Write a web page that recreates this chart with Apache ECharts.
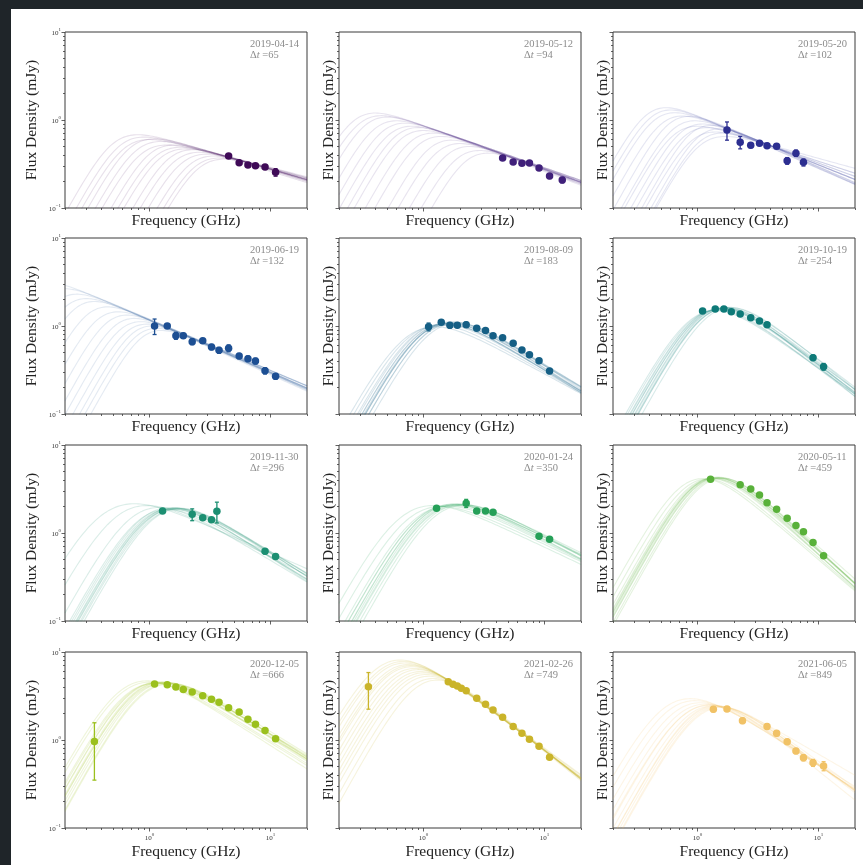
<!DOCTYPE html>
<html>
<head>
<meta charset="utf-8">
<script src="https://cdn.jsdelivr.net/npm/echarts@6/dist/echarts.min.js"></script>
<style>
  html, body { margin: 0; padding: 0; width: 863px; height: 865px; background: #1f2529; overflow: hidden; }
  #sheet { position: absolute; left: 11px; top: 9px; width: 852px; height: 856px; background: #ffffff; }
  #chart { position: absolute; left: 0; top: 0; width: 863px; height: 865px; }
</style>
</head>
<body>
<div id="sheet"></div>
<div id="chart"></div>
<script>
// ---- Epochs -------------------------------------------------------------
const epochDates  = ['2019-04-14', '2019-05-12', '2019-05-20', '2019-06-19', '2019-08-09', '2019-10-19',
                     '2019-11-30', '2020-01-24', '2020-05-11', '2020-12-05', '2021-02-26', '2021-06-05'];
const epochDeltaT = [65, 94, 102, 132, 183, 254, 296, 350, 459, 666, 749, 849];
const epochColors = ['#3f0a57', '#40207a', '#2c2e90', '#1d4f93', '#155f85', '#0e7a78',
                     '#1c8f72', '#25a058', '#59b13a', '#9bc01d', '#cab42a', '#f1c266'];

// ---- Measured spectra: frequency (GHz), flux density (mJy), 1-sigma error (mJy)
const freq_190414 = [4.5, 5.5, 6.5, 7.5, 9.0, 11.0];
const flux_190414 = [0.39, 0.327, 0.308, 0.303, 0.292, 0.255];
const err_190414  = [0.02, 0.015, 0.015, 0.015, 0.015, 0.025];

const freq_190512 = [4.5, 5.5, 6.5, 7.5, 9.0, 11.0, 14.0];
const flux_190512 = [0.37, 0.333, 0.322, 0.325, 0.285, 0.231, 0.208];
const err_190512  = [0.018, 0.015, 0.015, 0.015, 0.015, 0.015, 0.015];

const freq_190520 = [1.75, 2.25, 2.75, 3.25, 3.75, 4.5, 5.5, 6.5, 7.5];
const flux_190520 = [0.77, 0.56, 0.515, 0.543, 0.51, 0.502, 0.344, 0.42, 0.33];
const err_190520  = [0.18, 0.09, 0.03, 0.03, 0.03, 0.03, 0.03, 0.035, 0.03];

const freq_190619 = [1.1, 1.4, 1.65, 1.9, 2.25, 2.75, 3.25, 3.75, 4.5, 5.5, 6.5, 7.5, 9.0, 11.0];
const flux_190619 = [1.0, 1.0, 0.776, 0.776, 0.664, 0.68, 0.577, 0.53, 0.56, 0.456, 0.425, 0.40, 0.31, 0.268];
const err_190619  = [0.2, 0.06, 0.07, 0.05, 0.05, 0.04, 0.04, 0.04, 0.05, 0.03, 0.03, 0.03, 0.025, 0.02];

const freq_190809 = [1.1, 1.4, 1.65, 1.9, 2.25, 2.75, 3.25, 3.75, 4.5, 5.5, 6.5, 7.5, 9.0, 11.0];
const flux_190809 = [0.98, 1.10, 1.02, 1.02, 1.035, 0.94, 0.89, 0.776, 0.736, 0.636, 0.533, 0.472, 0.403, 0.308];
const err_190809  = [0.1, 0.05, 0.07, 0.05, 0.07, 0.04, 0.04, 0.04, 0.03, 0.03, 0.025, 0.025, 0.02, 0.02];

const freq_191019 = [1.1, 1.4, 1.65, 1.9, 2.25, 2.75, 3.25, 3.75, 9.0, 11.0];
const flux_191019 = [1.48, 1.56, 1.56, 1.45, 1.37, 1.24, 1.14, 1.03, 0.436, 0.345];
const err_191019  = [0.05, 0.05, 0.05, 0.05, 0.05, 0.04, 0.04, 0.04, 0.03, 0.03];

const freq_191130 = [1.28, 2.25, 2.75, 3.25, 3.6, 9.0, 11.0];
const flux_191130 = [1.78, 1.63, 1.49, 1.41, 1.77, 0.62, 0.54];
const err_191130  = [0.06, 0.25, 0.07, 0.06, 0.47, 0.04, 0.03];

const freq_200124 = [1.28, 2.25, 2.75, 3.25, 3.75, 9.0, 11.0];
const flux_200124 = [1.91, 2.18, 1.78, 1.78, 1.72, 0.92, 0.85];
const err_200124  = [0.08, 0.23, 0.07, 0.06, 0.06, 0.04, 0.04];

const freq_200511 = [1.28, 2.25, 2.75, 3.25, 3.75, 4.5, 5.5, 6.5, 7.5, 9.0, 11.0];
const flux_200511 = [4.07, 3.54, 3.16, 2.70, 2.21, 1.86, 1.47, 1.22, 1.03, 0.78, 0.55];
const err_200511  = [0.12, 0.1, 0.09, 0.08, 0.07, 0.06, 0.05, 0.04, 0.04, 0.03, 0.03];

const freq_201205 = [0.35, 1.1, 1.4, 1.65, 1.9, 2.25, 2.75, 3.25, 3.75, 4.5, 5.5, 6.5, 7.5, 9.0, 11.0];
const flux_201205 = [0.96, 4.33, 4.25, 4.0, 3.76, 3.51, 3.19, 2.90, 2.68, 2.33, 2.08, 1.72, 1.51, 1.28, 1.03];
const err_201205  = [0.61, 0.13, 0.12, 0.12, 0.11, 0.1, 0.1, 0.09, 0.08, 0.07, 0.06, 0.05, 0.05, 0.04, 0.04];

const freq_210226 = [0.35, 1.6, 1.75, 1.9, 2.05, 2.25, 2.75, 3.25, 3.75, 4.5, 5.5, 6.5, 7.5, 9.0, 11.0];
const flux_210226 = [4.04, 4.60, 4.29, 4.11, 3.87, 3.63, 2.98, 2.55, 2.19, 1.81, 1.42, 1.19, 1.02, 0.848, 0.635];
const err_210226  = [1.8, 0.14, 0.13, 0.12, 0.12, 0.11, 0.09, 0.08, 0.07, 0.06, 0.05, 0.04, 0.04, 0.03, 0.03];

const freq_210605 = [1.35, 1.75, 2.35, 3.75, 4.5, 5.5, 6.5, 7.5, 9.0, 11.0];
const flux_210605 = [2.23, 2.25, 1.66, 1.42, 1.19, 0.957, 0.75, 0.63, 0.552, 0.507];
const err_210605  = [0.14, 0.12, 0.12, 0.1, 0.08, 0.06, 0.05, 0.05, 0.05, 0.06];

// ---- Posterior model draws: [peak frequency (GHz), peak flux (mJy), optically thin index]
const fits_190414 = [[0.8,0.68,-0.40],[0.9,0.64,-0.42],[1.0,0.60,-0.38],[1.1,0.61,-0.42],[1.25,0.57,-0.40],
  [1.4,0.52,-0.36],[1.6,0.52,-0.42],[1.8,0.49,-0.40],[2.0,0.47,-0.38],[2.3,0.46,-0.42],[2.6,0.43,-0.40],
  [3.0,0.41,-0.38],[3.4,0.39,-0.42],[3.8,0.37,-0.40],[4.2,0.36,-0.36]];
const fits_190512 = [[0.4,1.2,-0.5],[0.45,1.12,-0.48],[0.5,1.08,-0.52],[0.6,0.98,-0.5],[0.7,0.92,-0.5],
  [0.8,0.85,-0.48],[0.9,0.82,-0.52],[1.0,0.76,-0.5],[1.2,0.71,-0.5],[1.4,0.65,-0.48],[1.7,0.59,-0.52],
  [2.0,0.54,-0.5],[2.4,0.50,-0.5],[2.9,0.45,-0.48],[3.4,0.42,-0.5]];
const fits_190520 = [[0.55,1.38,-0.6],[0.6,1.30,-0.6],[0.65,1.21,-0.55],[0.75,1.11,-0.55],[0.85,1.10,-0.6],
  [0.95,0.98,-0.55],[1.0,0.85,-0.45],[1.1,0.90,-0.55],[1.2,0.82,-0.5],[1.3,0.87,-0.62],[1.4,0.73,-0.45],
  [1.5,0.79,-0.6],[1.6,0.71,-0.5],[1.7,0.65,-0.38]];
const fits_190619 = [[0.15,3.1,-0.6],[0.2,2.65,-0.6],[0.25,2.3,-0.58],[0.3,2.05,-0.6],[0.35,1.9,-0.62],
  [0.45,1.65,-0.6],[0.55,1.45,-0.58],[0.65,1.33,-0.6],[0.75,1.22,-0.62],[0.85,1.12,-0.58],[0.95,1.05,-0.6],
  [1.05,1.0,-0.62],[1.15,0.94,-0.58],[1.25,0.89,-0.6]];
const fits_190809 = [[1.25,0.98,-0.75],[1.35,1.02,-0.78],[1.45,1.05,-0.8],[1.5,1.07,-0.82],[1.55,1.06,-0.85],
  [1.6,1.08,-0.8],[1.65,1.07,-0.85],[1.7,1.09,-0.82],[1.75,1.06,-0.88],[1.8,1.1,-0.85],[1.9,1.08,-0.9],
  [1.6,1.04,-0.85],[1.7,1.12,-0.85]];
const fits_191019 = [[1.4,1.5,-0.98],[1.45,1.52,-1.0],[1.5,1.55,-1.05],[1.55,1.58,-1.02],[1.6,1.6,-1.05],
  [1.65,1.6,-1.08],[1.7,1.62,-1.05],[1.75,1.6,-1.1],[1.8,1.63,-1.05],[1.6,1.56,-1.0],[1.7,1.58,-1.12],
  [1.9,1.62,-1.1]];
const fits_191130 = [[1.4,1.85,-0.82],[1.5,1.88,-0.85],[1.55,1.9,-0.88],[1.6,1.92,-0.85],[1.65,1.9,-0.82],
  [1.7,1.93,-0.88],[1.75,1.88,-0.85],[1.6,1.86,-0.9],[1.5,1.95,-0.8],[1.8,1.9,-0.9],[1.2,1.95,-0.82],
  [0.95,2.05,-0.7],[0.75,2.15,-0.6]];
const fits_200124 = [[1.2,2.05,-0.65],[1.4,2.0,-0.65],[1.6,2.02,-0.68],[1.7,2.06,-0.7],[1.75,2.12,-0.66],
  [1.8,2.1,-0.72],[1.85,2.15,-0.7],[1.9,2.1,-0.7],[1.95,2.05,-0.74],[2.0,2.12,-0.68],[2.1,2.1,-0.72],
  [2.2,2.08,-0.75]];
const fits_200511 = [[1.1,4.15,-1.18],[1.2,4.1,-1.2],[1.3,4.15,-1.22],[1.35,4.2,-1.25],[1.38,4.12,-1.2],
  [1.4,4.25,-1.28],[1.42,4.3,-1.25],[1.45,4.25,-1.25],[1.48,4.18,-1.25],[1.5,4.3,-1.22],[1.55,4.22,-1.28],
  [1.6,4.2,-1.3]];
const fits_201205 = [[0.95,4.7,-0.88],[1.0,4.55,-0.85],[1.1,4.4,-0.85],[1.15,4.45,-0.82],[1.2,4.5,-0.85],
  [1.2,4.6,-0.85],[1.25,4.5,-0.88],[1.3,4.55,-0.85],[1.3,4.4,-0.82],[1.35,4.45,-0.85],[1.4,4.5,-0.88],
  [1.45,4.4,-0.9],[1.5,4.35,-0.85]];
const fits_210226 = [[0.64,8.1,-1.0],[0.68,7.8,-1.0],[0.7,7.5,-1.02],[0.75,7.2,-1.03],[0.78,7.0,-1.04],
  [0.8,6.8,-1.04],[0.85,6.5,-1.05],[0.9,6.3,-1.06],[0.95,6.0,-1.07],[1.0,5.8,-1.08],[1.05,5.55,-1.08],
  [1.1,5.3,-1.1],[1.2,5.0,-1.1],[1.3,4.8,-1.12]];
const fits_210605 = [[0.87,2.95,-0.85],[0.95,2.8,-0.88],[1.05,2.65,-0.9],[1.15,2.55,-0.92],[1.25,2.5,-0.95],
  [1.3,2.5,-0.8],[1.35,2.45,-0.98],[1.4,2.45,-1.1],[1.45,2.42,-1.0],[1.5,2.4,-1.02],[1.55,2.38,-1.05],
  [1.6,2.35,-1.0]];

// Sharpness of the spectral turnover used for each epoch's model draws
const fitSmoothing = [1.4, 1.4, 1.4, 1.4, 0.8, 0.8, 0.8, 0.8, 0.8, 0.8, 0.8, 0.8];

// Axis tick values
const freqMajorTicks = [1, 10];
const freqMinorTicks = [0.2, 0.3, 0.4, 0.5, 0.6, 0.7, 0.8, 0.9, 2, 3, 4, 5, 6, 7, 8, 9, 20];
const fluxMajorTicks = [0.1, 1, 10];
const fluxMinorTicks = [0.2, 0.3, 0.4, 0.5, 0.6, 0.7, 0.8, 0.9, 2, 3, 4, 5, 6, 7, 8, 9];

const epochs = [
  { freq: freq_190414, flux: flux_190414, err: err_190414, fits: fits_190414 },
  { freq: freq_190512, flux: flux_190512, err: err_190512, fits: fits_190512 },
  { freq: freq_190520, flux: flux_190520, err: err_190520, fits: fits_190520 },
  { freq: freq_190619, flux: flux_190619, err: err_190619, fits: fits_190619 },
  { freq: freq_190809, flux: flux_190809, err: err_190809, fits: fits_190809 },
  { freq: freq_191019, flux: flux_191019, err: err_191019, fits: fits_191019 },
  { freq: freq_191130, flux: flux_191130, err: err_191130, fits: fits_191130 },
  { freq: freq_200124, flux: flux_200124, err: err_200124, fits: fits_200124 },
  { freq: freq_200511, flux: flux_200511, err: err_200511, fits: fits_200511 },
  { freq: freq_201205, flux: flux_201205, err: err_201205, fits: fits_201205 },
  { freq: freq_210226, flux: flux_210226, err: err_210226, fits: fits_210226 },
  { freq: freq_210605, flux: flux_210605, err: err_210605, fits: fits_210605 }
];

// ---- Spectral model: smoothly broken power law, self-absorbed below the peak
const FREQ_MIN = 0.2, FREQ_MAX = 20, FLUX_MIN = 0.1, FLUX_MAX = 10;
const THICK_INDEX = 2.5;
function modelFlux(nu, nuPeak, fluxPeak, beta, s) {
  const shape = x => Math.pow(Math.pow(x, -s * THICK_INDEX) + Math.pow(x, -s * beta), -1 / s);
  const xPeak = Math.pow(-beta / THICK_INDEX, 1 / (s * (beta - THICK_INDEX)));
  return fluxPeak * shape(nu / nuPeak * xPeak) / shape(xPeak);
}
const MODEL_SAMPLES = 120;
const modelFreqs = Array.from({ length: MODEL_SAMPLES },
  (_, k) => FREQ_MIN * Math.pow(FREQ_MAX / FREQ_MIN, k / (MODEL_SAMPLES - 1)));

// ---- Layout
const GRID_LEFT = [65, 339, 613];
const GRID_TOP = [32, 238, 445, 652];
const GRID_W = 242, GRID_H = 176;
const FONT = '"Liberation Serif", "Times New Roman", serif';
const AXIS_COLOR = '#3a3a3a';

function powerLabel(v) {
  const e = Math.round(v);
  return '{b|10}{sup|' + (e < 0 ? '\u2212' + (-e) : e) + '}';
}
const tickRich = {
  b: { fontFamily: FONT, fontSize: 7, color: '#333', padding: [3, 0, 0, 0] },
  sup: { fontFamily: FONT, fontSize: 5, color: '#333', verticalAlign: 'top', padding: [0, 0, 3, 0] }
};

function tickAxis(dim, gridIndex, values, length, withLabels) {
  const lo = dim === 'x' ? FREQ_MIN : FLUX_MIN, hi = dim === 'x' ? FREQ_MAX : FLUX_MAX;
  const logs = values.map(v => Math.log10(v));
  return {
    type: 'value', gridIndex, position: dim === 'x' ? 'bottom' : 'left',
    min: Math.log10(lo), max: Math.log10(hi), silent: true,
    axisLine: { show: false, onZero: false }, splitLine: { show: false },
    axisTick: { show: true, customValues: logs, length, lineStyle: { color: AXIS_COLOR, width: 0.8 } },
    axisLabel: withLabels
      ? { show: true, customValues: logs, formatter: powerLabel, margin: 4, rich: tickRich }
      : { show: false }
  };
}

const grids = [], xAxes = [], yAxes = [], series = [], graphics = [];

epochs.forEach((ep, i) => {
  const col = i % 3, row = Math.floor(i / 3);
  const left = GRID_LEFT[col], top = GRID_TOP[row];
  const color = epochColors[i];
  const base = 3 * i;

  grids.push({ left, top, width: GRID_W, height: GRID_H, show: true,
    borderColor: AXIS_COLOR, borderWidth: 1, backgroundColor: 'transparent' });

  xAxes.push({
    type: 'log', logBase: 10, gridIndex: i, position: 'bottom', min: FREQ_MIN, max: FREQ_MAX,
    axisLine: { show: false, onZero: false }, axisTick: { show: false }, axisLabel: { show: false },
    splitLine: { show: false },
    name: 'Frequency (GHz)', nameLocation: 'middle', nameGap: row === 3 ? 16 : 5,
    nameTextStyle: { fontFamily: FONT, fontSize: 15.5, color: '#222' }
  });
  xAxes.push(tickAxis('x', i, freqMajorTicks, 3.5, row === 3));
  xAxes.push(tickAxis('x', i, freqMinorTicks, 2, false));

  yAxes.push({
    type: 'log', logBase: 10, gridIndex: i, position: 'left', min: FLUX_MIN, max: FLUX_MAX,
    axisLine: { show: false, onZero: false }, axisTick: { show: false }, axisLabel: { show: false },
    splitLine: { show: false },
    name: 'Flux Density (mJy)', nameLocation: 'middle', nameRotate: 90, nameGap: col === 0 ? 25 : 2,
    nameTextStyle: { fontFamily: FONT, fontSize: 15.5, color: '#222' }
  });
  yAxes.push(tickAxis('y', i, fluxMajorTicks, 3.5, col === 0));
  yAxes.push(tickAxis('y', i, fluxMinorTicks, 2, false));

  // model draws
  ep.fits.forEach(([nuP, sP, beta]) => {
    series.push({
      type: 'line', xAxisIndex: base, yAxisIndex: base, silent: true, clip: true, z: 1,
      symbol: 'none', showSymbol: false,
      data: modelFreqs.map(nu => [nu, modelFlux(nu, nuP, sP, beta, fitSmoothing[i])]),
      lineStyle: { color, width: 1.1, opacity: i < 4 ? 0.12 : 0.16 }
    });
  });

  // error bars
  series.push({
    type: 'custom', xAxisIndex: base, yAxisIndex: base, silent: true, z: 3,
    data: ep.freq.map((f, k) => [f, ep.flux[k] - ep.err[k], ep.flux[k] + ep.err[k]]),
    encode: { x: 0, y: [1, 2] },
    renderItem: (params, api) => {
      const p0 = api.coord([api.value(0), api.value(1)]);
      const p1 = api.coord([api.value(0), api.value(2)]);
      const cap = 2;
      const st = { stroke: color, lineWidth: 1.3 };
      return { type: 'group', children: [
        { type: 'line', shape: { x1: p0[0], y1: p0[1], x2: p1[0], y2: p1[1] }, style: st },
        { type: 'line', shape: { x1: p0[0] - cap, y1: p0[1], x2: p0[0] + cap, y2: p0[1] }, style: st },
        { type: 'line', shape: { x1: p1[0] - cap, y1: p1[1], x2: p1[0] + cap, y2: p1[1] }, style: st }
      ] };
    }
  });

  // measurements
  series.push({
    type: 'scatter', xAxisIndex: base, yAxisIndex: base, silent: true, z: 4,
    symbol: 'circle', symbolSize: 7.5,
    data: ep.freq.map((f, k) => [f, ep.flux[k]]),
    itemStyle: { color, opacity: 1 }
  });

  // epoch annotation
  graphics.push({
    type: 'text', x: left + 185, y: top + 7, silent: true,
    style: {
      text: epochDates[i] + '\n\u0394{it|t} =' + epochDeltaT[i],
      fill: '#8c8c8c', fontFamily: FONT, fontSize: 10.5, lineHeight: 11,
      rich: { it: { fontFamily: FONT, fontSize: 10.5, fontStyle: 'italic', fill: '#8c8c8c', lineHeight: 11 } }
    }
  });
});

const chart = echarts.init(document.getElementById('chart'), null, { renderer: 'canvas' });
chart.setOption({
  animation: false,
  backgroundColor: 'transparent',
  grid: grids,
  xAxis: xAxes,
  yAxis: yAxes,
  series,
  graphic: graphics
});
</script>
</body>
</html>
